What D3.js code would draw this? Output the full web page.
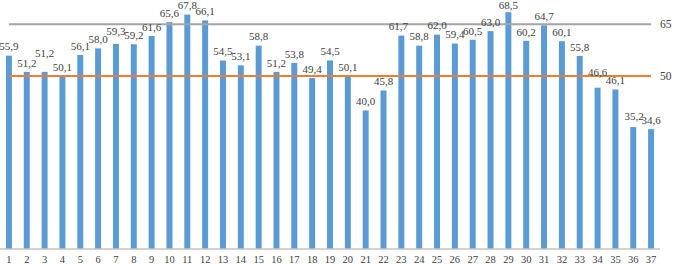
<!DOCTYPE html>
<html>
<head>
<meta charset="utf-8">
<script src="https://cdn.jsdelivr.net/npm/d3@7/dist/d3.min.js"></script>
<style>
  html, body { margin: 0; padding: 0; background: #fff; }
  svg { display: block; }
</style>
</head>
<body>
<svg id="chart" width="674" height="264"></svg>
<script>
// ---- data ----
const categories = ["1","2","3","4","5","6","7","8","9","10","11","12","13","14","15","16","17","18","19","20","21","22","23","24","25","26","27","28","29","30","31","32","33","34","35","36","37"];
const values = [55.9,51.2,51.2,50.1,56.1,58.0,59.3,59.2,61.6,65.6,67.8,66.1,54.5,53.1,58.8,51.2,53.8,49.4,54.5,50.1,40.0,45.8,61.7,58.8,62.0,59.4,60.5,63.0,68.5,60.2,64.7,60.1,55.8,46.6,46.1,35.2,34.6];
const upperLevel = 65;
const lowerLevel = 50;
const upperLabel = "65";
const lowerLabel = "50";

// ---- layout ----
const svg = d3.select("#chart");
const plot = { left: 0, right: 660, top: 7, bottom: 248.5 };

const x = d3.scaleBand().domain(categories).range([plot.left, plot.right]).paddingInner(0.665).paddingOuter(0.3325);
const y = d3.scaleLinear().domain([0, 70]).range([plot.bottom, plot.top]);

const fmt = v => d3.format(".1f")(v).replace(".", ",");

// manual label nudges (layout only)
const nudge = { "3": { dx: 0, dy: -10 }, "7": { dx: 0, dy: -4 }, "23": { dx: -3, dy: 0 }, "29": { dx: 0, dy: 1.5 }, "34": { dx: 0, dy: -7 }, "36": { dx: 1, dy: -2 } };

// bars
svg.append("g").selectAll("rect").data(values).join("rect")
  .attr("x", (d, i) => x(categories[i]))
  .attr("width", x.bandwidth())
  .attr("y", d => y(d))
  .attr("height", d => y(0) - y(d))
  .attr("fill", "#5B9BD5");

// x axis
const xAxis = d3.axisBottom(x).tickSize(0).tickPadding(7);
const gx = svg.append("g").attr("transform", `translate(0,${plot.bottom})`).call(xAxis);
gx.select(".domain").attr("stroke", "#A6A6A6").attr("stroke-width", 1).attr("d", `M${plot.left},0.5H${plot.right}`);
gx.selectAll("text").attr("font-family", "'Liberation Serif', 'Times New Roman', serif").attr("font-size", 10.5).attr("fill", "#404040");

// reference lines
const c0 = x(categories[0]) + x.bandwidth() / 2;
const c1 = x(categories[categories.length - 1]) + x.bandwidth() / 2;
const line = d3.line().x(d => d[0]).y(d => y(d[1]));
svg.append("path").attr("d", line([[c0, upperLevel], [c1, upperLevel]]))
  .attr("stroke", "#A5A5A5").attr("stroke-width", 2.2).attr("fill", "none");
svg.append("path").attr("d", line([[c0, lowerLevel], [c1, lowerLevel]]))
  .attr("stroke", "#ED7D31").attr("stroke-width", 2.2).attr("fill", "none");

// right labels
svg.append("g").selectAll("text").data([[upperLevel, upperLabel], [lowerLevel, lowerLabel]]).join("text")
  .attr("x", 660).attr("y", d => y(d[0])).attr("dy", "0.35em")
  .attr("font-family", "'Liberation Serif', 'Times New Roman', serif").attr("font-size", 11.5).attr("fill", "#404040")
  .text(d => d[1]);

// data labels
svg.append("g").selectAll("text").data(values).join("text")
  .attr("x", (d, i) => x(categories[i]) + x.bandwidth() / 2 + ((nudge[categories[i]] || {}).dx || 0))
  .attr("y", (d, i) => y(d) - 9 + ((nudge[categories[i]] || {}).dy || 0))
  .attr("dy", "0.35em")
  .attr("text-anchor", "middle")
  .attr("font-family", "'Liberation Serif', 'Times New Roman', serif").attr("font-size", 11).attr("fill", "#404040")
  .text(d => fmt(d));
</script>
</body>
</html>
